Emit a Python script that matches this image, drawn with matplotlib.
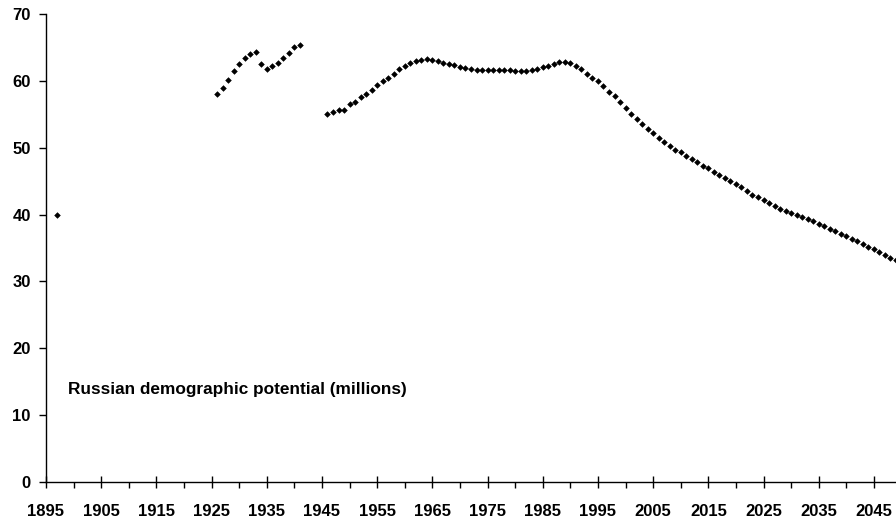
import numpy as np
import matplotlib.pyplot as plt

# Russian demographic potential (millions), yearly values
years_early = [1897]
vals_early = [40.0]

years_interwar = list(range(1926, 1942))
vals_interwar = [58.0, 59.0, 60.2, 61.5, 62.5, 63.4, 64.0, 64.3,
                 62.5, 61.8, 62.2, 62.6, 63.4, 64.2, 65.1, 65.3]

years_post = list(range(1946, 2050))
vals_post = [
    55.1, 55.4, 55.6, 55.7, 56.5, 56.9, 57.6, 58.1, 58.6, 59.4,   # 1946-1955
    60.0, 60.5, 61.0, 61.7, 62.2, 62.6, 62.9, 63.1, 63.2, 63.1,   # 1956-1965
    62.9, 62.6, 62.5, 62.4, 62.1, 61.9, 61.7, 61.6, 61.6, 61.6,   # 1966-1975
    61.6, 61.6, 61.6, 61.6, 61.5, 61.4, 61.4, 61.6, 61.7, 62.0,   # 1976-1985
    62.2, 62.5, 62.8, 62.8, 62.6, 62.2, 61.7, 61.1, 60.5, 60.0,   # 1986-1995
    59.3, 58.4, 57.7, 56.9, 56.0, 55.1, 54.3, 53.6, 52.8, 52.2,   # 1996-2005
    51.5, 50.8, 50.3, 49.7, 49.3, 48.8, 48.3, 47.8, 47.3, 46.9,   # 2006-2015
    46.4, 45.9, 45.4, 45.0, 44.5, 44.1, 43.5, 43.0, 42.6, 42.2,   # 2016-2025
    41.7, 41.3, 40.9, 40.6, 40.2, 39.9, 39.6, 39.3, 39.0, 38.6,   # 2026-2035
    38.3, 37.9, 37.6, 37.1, 36.8, 36.4, 36.0, 35.6, 35.1, 34.8,   # 2036-2045
    34.4, 33.9, 33.5, 33.2,                                       # 2046-2049
]

x_major = list(range(1895, 2050, 10))
x_minor = list(range(1900, 2050, 10))
y_ticks = list(range(0, 71, 10))

label_text = "Russian demographic potential (millions)"

plt.rcParams['font.family'] = ['Liberation Sans', 'DejaVu Sans']

fig = plt.figure(figsize=(8.96, 5.19), dpi=100)
ax = fig.add_axes([46 / 896, 37 / 519, 850 / 896, 468 / 519])

for xs, ys in [(years_early, vals_early), (years_interwar, vals_interwar),
               (years_post, vals_post)]:
    ax.plot(xs, ys, linestyle='none', marker='D', markersize=2.9,
            color='black', markeredgewidth=0.4, clip_on=False)

ax.set_xlim(1895, 2049)
ax.set_ylim(0, 70)

ax.set_xticks(x_major)
ax.set_xticks(x_minor, minor=True)
ax.set_yticks(y_ticks)

ax.spines['top'].set_visible(False)
ax.spines['right'].set_visible(False)
for s in ['left', 'bottom']:
    ax.spines[s].set_linewidth(1.0)
    ax.spines[s].set_color('black')

ax.tick_params(axis='y', direction='out', length=5, width=1, pad=6,
               labelsize=12)
ax.tick_params(axis='x', which='major', direction='inout', length=9,
               width=1, pad=11, labelsize=12)
ax.tick_params(axis='x', which='minor', direction='out', length=4, width=1)
for lbl in ax.get_xticklabels() + ax.get_yticklabels():
    lbl.set_fontweight('bold')

ax.text(1899, 13.8, label_text, ha='left', va='center', fontsize=12.4,
        fontweight='bold')

fig.savefig("out.png", dpi=100)
